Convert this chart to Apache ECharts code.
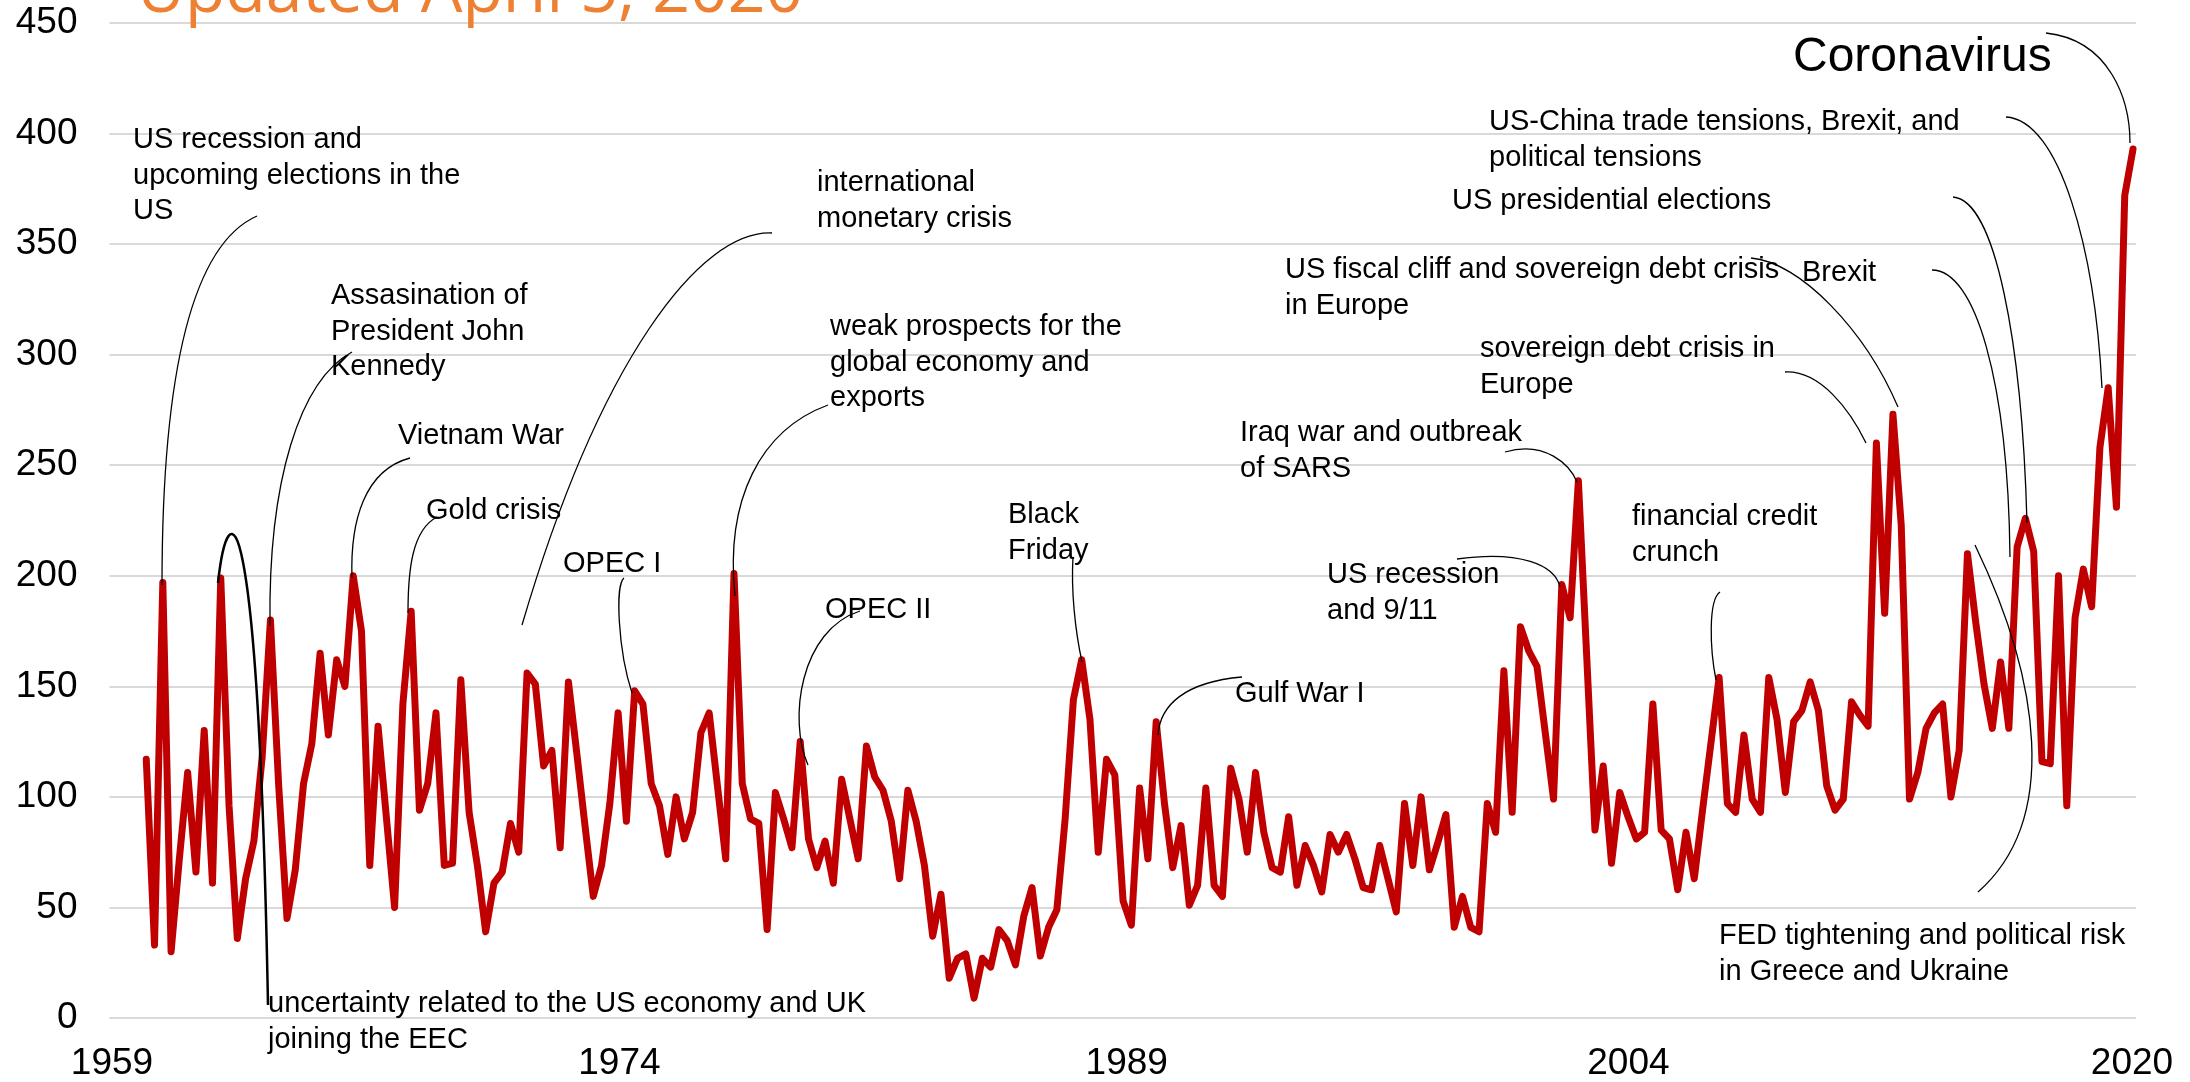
<!DOCTYPE html>
<html>
<head>
<meta charset="utf-8">
<title>World Uncertainty Index</title>
<script src="https://cdn.jsdelivr.net/npm/echarts@6.0.0/dist/echarts.min.js"></script>
<style>
  html, body { margin: 0; padding: 0; background: #fff; }
  #wuiChart { width: 2190px; height: 1082px; }
</style>
</head>
<body>
<div id="wuiChart"></div>
<script>
// quarterly index values (first point = 1960 Q1)
var wui1960s = [117, 33, 197, 30, 72, 111, 66, 130, 61, 199, 96, 36, 63, 80, 118, 180, 105, 45, 67, 106,
  124, 165, 128, 162, 150, 200, 175, 69, 132, 91, 50, 142, 184, 94, 106, 138, 69, 70, 153, 93];
var wui1970s = [69, 39, 61, 66, 88, 75, 156, 151, 114, 121, 77, 152, 120, 87, 55, 69, 97, 138, 89, 148,
  142, 106, 96, 74, 100, 81, 93, 129, 138, 105, 72, 201, 106, 90, 88, 40, 102, 90, 77, 125];
var wui1980s = [81, 68, 80, 61, 108, 90, 72, 123, 109, 103, 89, 63, 103, 89, 69, 37, 56, 18, 27, 29,
  9, 27, 23, 40, 35, 24, 46, 59, 28, 41, 49, 90, 144, 162, 135, 75, 117, 110, 53, 42];
var wui1990s = [104, 72, 134, 97, 68, 87, 51, 60, 104, 60, 55, 113, 99, 75, 111, 84, 68, 66, 91, 60,
  78, 69, 57, 83, 75, 83, 72, 59, 58, 78, 63, 48, 97, 69, 100, 67, 79, 92, 41, 55];
var wui2000s = [41, 39, 97, 84, 157, 93, 177, 166, 159, 129, 99, 196, 181, 243, 164, 85, 114, 70, 102, 91,
  81, 84, 142, 85, 81, 58, 84, 63, 94, 124, 154, 97, 93, 128, 99, 93, 154, 135, 102, 134];
var wui2010s = [139, 152, 139, 105, 94, 99, 143, 137, 132, 260, 183, 273, 223, 99, 111, 131, 138, 142, 100, 121,
  210, 179, 151, 131, 161, 131, 213, 226, 211, 116, 115, 200, 96, 181, 203, 186, 258, 285, 231, 372];
var wui2020s = [393];

var startYear = 1960;
// x axis labels and where they sit (in years)
var tickPos = [1958.965, 1974.29, 1989.61, 2004.76, 2019.97];
var tickText = ['1959', '1974', '1989', '2004', '2020'];

var wuiValues = [].concat(wui1960s, wui1970s, wui1980s, wui1990s, wui2000s, wui2010s, wui2020s);
var wuiPoints = wuiValues.map(function (v, i) { return [startYear + i / 4, v]; });

var FONT = "'Liberation Sans', Arial, sans-serif";

// annotation texts: [left, first line centre, lines]
var notes = [
  [133, 140, ['US recession and', 'upcoming elections in the', 'US']],
  [331, 296, ['Assasination of', 'President John', 'Kennedy']],
  [398, 436, ['Vietnam War']],
  [426, 511, ['Gold crisis']],
  [563, 564, ['OPEC I']],
  [817, 183, ['international', 'monetary crisis']],
  [830, 327, ['weak prospects for the', 'global economy and', 'exports']],
  [825, 610, ['OPEC II']],
  [1008, 515, ['Black', 'Friday']],
  [1235, 694, ['Gulf War I']],
  [1240, 433, ['Iraq war and outbreak', 'of SARS']],
  [1327, 575, ['US recession', 'and 9/11']],
  [1632, 517, ['financial credit', 'crunch']],
  [1285, 270, ['US fiscal cliff and sovereign debt crisis', 'in Europe']],
  [1480, 349, ['sovereign debt crisis in', 'Europe']],
  [1452, 201, ['US presidential elections']],
  [1489, 122, ['US-China trade tensions, Brexit, and', 'political tensions']],
  [1802, 273, ['Brexit']],
  [1719, 936, ['FED tightening and political risk', 'in Greece and Ukraine']],
  [268, 1004, ['uncertainty related to the US economy and UK', 'joining the EEC']]
];

// leader lines: start, control 1, control 2, end
var leaders = [
  [257, 216, 180, 250, 162, 420, 162, 585],
  [352, 352, 300, 380, 268, 480, 270, 626],
  [410, 458, 365, 470, 350, 520, 352, 578],
  [437, 517, 412, 530, 408, 570, 408, 613],
  [624, 578, 615, 585, 618, 650, 632, 693],
  [772, 233, 700, 230, 600, 360, 522, 625],
  [828, 405, 760, 430, 725, 500, 735, 596],
  [860, 611, 800, 630, 788, 720, 808, 765],
  [1073, 557, 1071, 590, 1075, 630, 1082, 662],
  [1242, 677, 1185, 682, 1160, 705, 1158, 735],
  [1505, 452, 1545, 440, 1570, 465, 1577, 482],
  [1457, 559, 1520, 550, 1555, 565, 1560, 587],
  [1720, 592, 1708, 600, 1710, 650, 1716, 680],
  [1785, 372, 1820, 370, 1850, 410, 1866, 443],
  [1751, 258, 1800, 262, 1865, 330, 1898, 407],
  [1932, 270, 1975, 270, 2008, 380, 2010, 557],
  [1953, 197, 1995, 200, 2022, 340, 2027, 523],
  [2006, 117, 2060, 120, 2095, 250, 2102, 388],
  [2046, 33, 2110, 40, 2130, 100, 2130, 143],
  [1978, 892, 2060, 820, 2040, 680, 1975, 545]
];

var graphics = [];
notes.forEach(function (n) {
  var lh = 35.5;
  graphics.push({
    type: 'text', x: n[0], y: n[1] + (n[2].length - 1) * lh / 2, z: 100,
    style: { text: n[2].join('\n'), fontSize: 29, fontFamily: FONT, fill: '#000',
      lineHeight: lh, align: 'left', verticalAlign: 'middle' }
  });
});
leaders.forEach(function (c) {
  graphics.push({
    type: 'bezierCurve', z: 101,
    shape: { x1: c[0], y1: c[1], cpx1: c[2], cpy1: c[3], cpx2: c[4], cpy2: c[5], x2: c[6], y2: c[7] },
    style: { stroke: '#000', lineWidth: 1.3, fill: null }
  });
});
// the thicker bracket for the EEC note
graphics.push({
  type: 'bezierCurve', z: 101,
  shape: { x1: 268, y1: 1005, cpx1: 258, cpy1: 480, cpx2: 228, cpy2: 490, x2: 218, y2: 583 },
  style: { stroke: '#000', lineWidth: 2.5, fill: null }
});
graphics.push({
  type: 'text', x: 1793, y: 58, z: 100,
  style: { text: 'Coronavirus', fontSize: 48, fontFamily: FONT, fill: '#000', verticalAlign: 'middle' }
});
graphics.push({
  type: 'text', x: 137, y: -7, z: 100,
  style: { text: 'Updated April 5, 2020', fontSize: 66, fontFamily: "'Open Sans', sans-serif",
    fill: '#EE8033', verticalAlign: 'middle' }
});

var wuiChart = echarts.init(document.getElementById('wuiChart'));
var option = {
  animation: false,
  backgroundColor: '#fff',
  grid: { left: 109.5, right: 54, top: 23, bottom: 60 },
  xAxis: {
    type: 'value',
    min: 1958.89,
    max: 2020.09,
    axisLine: { show: false },
    axisTick: { show: false },
    splitLine: { show: false },
    axisLabel: {
      customValues: tickPos,
      formatter: function (v) {
        for (var i = 0; i < tickPos.length; i++) {
          if (Math.abs(tickPos[i] - v) < 0.01) return tickText[i];
        }
        return '';
      },
      fontSize: 37, fontFamily: FONT, color: '#000', margin: 27
    }
  },
  yAxis: {
    type: 'value',
    min: 0,
    max: 450,
    interval: 50,
    axisLine: { show: false },
    axisTick: { show: false },
    splitLine: { lineStyle: { color: '#D9D9D9', width: 2 } },
    axisLabel: { fontSize: 37, fontFamily: FONT, color: '#000', margin: 32 }
  },
  series: [{
    type: 'line',
    data: wuiPoints,
    showSymbol: false,
    lineStyle: { color: '#C00000', width: 7, join: 'round', cap: 'round' }
  }],
  graphic: graphics
};
wuiChart.setOption(option);
</script>
</body>
</html>
